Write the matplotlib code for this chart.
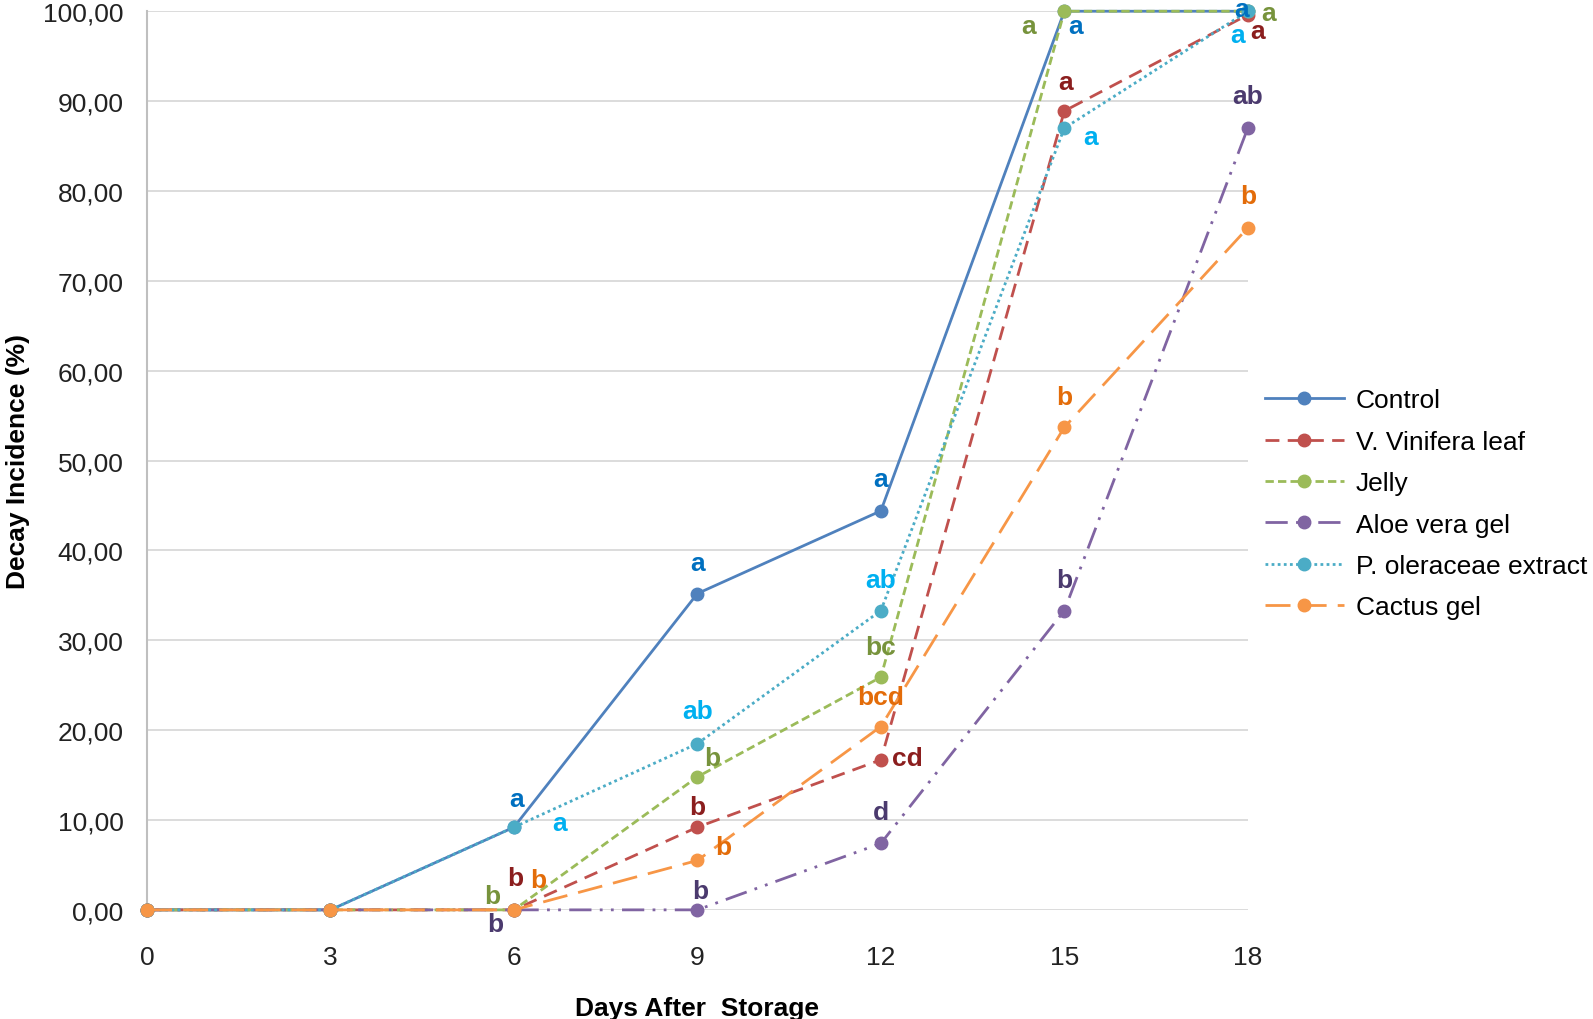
import matplotlib.pyplot as plt
from matplotlib.ticker import FuncFormatter

plt.rcParams['font.family'] = ['Liberation Sans', 'DejaVu Sans']

days = [0, 3, 6, 9, 12, 15, 18]
series_names = ["Control", "V. Vinifera leaf", "Jelly", "Aloe vera gel",
                "P. oleraceae extract", "Cactus gel"]

control = [0, 0, 9.2, 35.2, 44.4, 100, 100]
vinifera = [0, 0, 0, 9.2, 16.7, 88.9, 99.6]
jelly = [0, 0, 0, 14.8, 25.9, 100, 100]
aloe = [0, 0, 0, 0, 7.4, 33.3, 87.0]
oleraceae = [0, 0, 9.2, 18.5, 33.3, 87.0, 100]
cactus = [0, 0, 0, 5.5, 20.4, 53.7, 75.9]

# significance letters (none for day 0 and 3)
control_lab = ['', '', 'a', 'a', 'a', 'a', 'a']
vinifera_lab = ['', '', 'b', 'b', 'cd', 'a', 'a']
jelly_lab = ['', '', 'b', 'b', 'bc', 'a', 'a']
aloe_lab = ['', '', 'b', 'b', 'd', 'b', 'ab']
oleraceae_lab = ['', '', 'a', 'ab', 'ab', 'a', 'a']
cactus_lab = ['', '', 'b', 'b', 'bcd', 'b', 'b']

values = [control, vinifera, jelly, aloe, oleraceae, cactus]
letters = [control_lab, vinifera_lab, jelly_lab, aloe_lab, oleraceae_lab, cactus_lab]

# styles
line_colors = ['#4F81BD', '#C0504D', '#9BBB59', '#8064A2', '#4BACC6', '#F79646']
text_colors = ['#0070C0', '#8B1E1E', '#77933C', '#4B3A6E', '#00B0F0', '#E36C09']
dashes = [None, (5, 3), (3, 1.5), (8, 3, 1, 3, 1, 3), (1, 1.2), (9, 4)]
# label offsets in pixels (dx, dy) for each point
offsets = [
    [None, None, (3, 28), (0, 30), (0, 31), (11, -15), (-6, 2)],
    [None, None, (1, 31), (0, 20), (26, 2), (1, 29), (10, -16)],
    [None, None, (-21, 14), (15, 19), (0, 30), (-35, -15), (20, -2)],
    [None, None, (-18, -14), (3, 19), (0, 31), (0, 30), (0, 32)],
    [None, None, (45, 4), (0, 32), (0, 30), (26, -9), (-10, -23)],
    [None, None, (24, 29), (25, 13), (0, 29), (0, 30), (0, 31)],
]

fig = plt.figure(figsize=(15.93, 10.2), dpi=100)
ax = fig.add_axes([0.0923, 0.107, 0.691, 0.881])

for i in range(len(values)):
    line, = ax.plot(days, values[i], color=line_colors[i], lw=2.0, marker='o',
                    markersize=9, label=series_names[i], clip_on=False, zorder=3 + i)
    if dashes[i] is not None:
        line.set_dashes(dashes[i])
    for j in range(len(days)):
        if letters[i][j]:
            dx, dy = offsets[i][j]
            ax.annotate(letters[i][j], (days[j], values[i][j]),
                        xytext=(dx * 1.016, dy * 1.016), textcoords='offset pixels',
                        ha='center', va='center', fontsize=19, fontweight='bold',
                        color=text_colors[i], zorder=20, annotation_clip=False)

ax.set_xlim(0, 18)
ax.set_ylim(0, 100)
ax.set_xticks(days)
ax.set_yticks(range(0, 101, 10))
ax.yaxis.set_major_formatter(FuncFormatter(lambda v, p: ('%.2f' % v).replace('.', ',')))
ax.tick_params(axis='both', length=0, labelsize=19, colors='#222222')
ax.tick_params(axis='y', pad=17)
ax.tick_params(axis='x', pad=25)
ax.grid(axis='y', color='#D9D9D9', lw=1.3)
ax.set_axisbelow(True)
for s in ['top', 'right', 'bottom']:
    ax.spines[s].set_visible(False)
ax.spines['left'].set_color('#BFBFBF')
ax.spines['left'].set_linewidth(1.5)

ax.set_ylabel('Decay Incidence (%)', fontsize=19, fontweight='bold', labelpad=9)
ax.set_xlabel('Days After  Storage', fontsize=19, fontweight='bold', labelpad=20)

fig.legend(loc='center left', bbox_to_anchor=(0.779, 0.505), frameon=False,
           fontsize=19, handlelength=3.0, labelspacing=0.66, handletextpad=0.45)

fig.savefig('out.png', dpi=100)
